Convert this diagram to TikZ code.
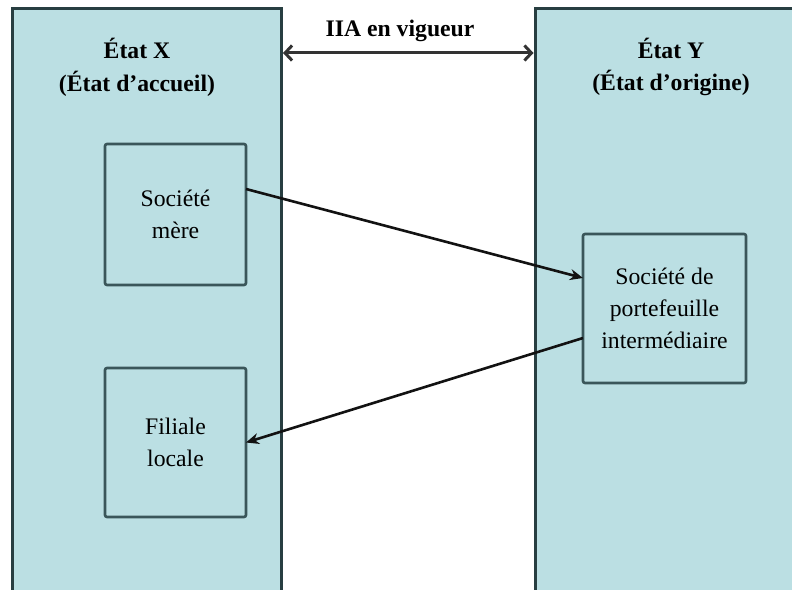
\documentclass[tikz,border=0pt]{standalone}
\usepackage{fontspec}
\setmainfont{Liberation Serif}
\usetikzlibrary{arrows.meta,calc}
\definecolor{panelfill}{RGB}{187,223,227}
\definecolor{panelline}{RGB}{40,62,65}
\definecolor{boxline}{RGB}{58,86,90}
\definecolor{arrowink}{RGB}{18,18,18}

\begin{document}
\begin{tikzpicture}[x=1bp,y=-1bp,
  panel/.style={draw=panelline, line width=3bp, fill=panelfill, anchor=north west,
    inner sep=0pt, outer sep=0pt},
  entity/.style={draw=boxline, line width=2.6bp, fill=panelfill, rounded corners=2bp,
    align=center, outer sep=0pt, font=\fontsize{23.8}{32}\selectfont},
  statetitle/.style={align=center, font=\fontsize{23.8}{33}\selectfont\bfseries},
  flow/.style={draw=arrowink, line width=2.6bp, -{Stealth[length=13bp,width=11bp]}},
  treaty/.style={draw=black!80, line width=3bp,
    {Straight Barb[length=7bp,width=15bp]}-{Straight Barb[length=7bp,width=15bp]}}]
\useasboundingbox (0,0) rectangle (792,590);
\clip (0,0) rectangle (792,590);
\fill[white] (0,0) rectangle (792,590);

% the two States, running past the lower edge
\node[panel, minimum width=269bp, minimum height=620bp] (X) at (12,9) {};
\node[panel, minimum width=290bp, minimum height=620bp] (Y) at (535,9) {};

% titles
\node[statetitle] (tx) at (137,67) {État X\\(État d’accueil)};
\node[statetitle] (ty) at (671,67) {État Y\\(État d’origine)};
\node[statetitle, anchor=base] (iia) at (400,37) {IIA en vigueur};

% companies
\node[entity, minimum width=141bp, minimum height=141bp] (mere) at (175.5,214.5) {Société\\mère};
\node[entity, minimum width=141bp, minimum height=149bp] (filiale) at (175.5,442.5) {Filiale\\locale};
\node[entity, minimum width=163bp, minimum height=149bp] (inter) at (664.5,308.5)
  {Société de\\portefeuille\\intermédiaire};

% treaty between the States
\draw[treaty] ([yshift=-44bp,xshift=2bp]X.north east) -- ([yshift=-44bp,xshift=-1.5bp]Y.north west);

% investment chain
\draw[flow] ([yshift=25.5bp]mere.east) -- ([yshift=30.5bp]inter.west);
\draw[flow] ([yshift=-29.5bp]inter.west) -- (filiale.east);
\end{tikzpicture}
\end{document}
